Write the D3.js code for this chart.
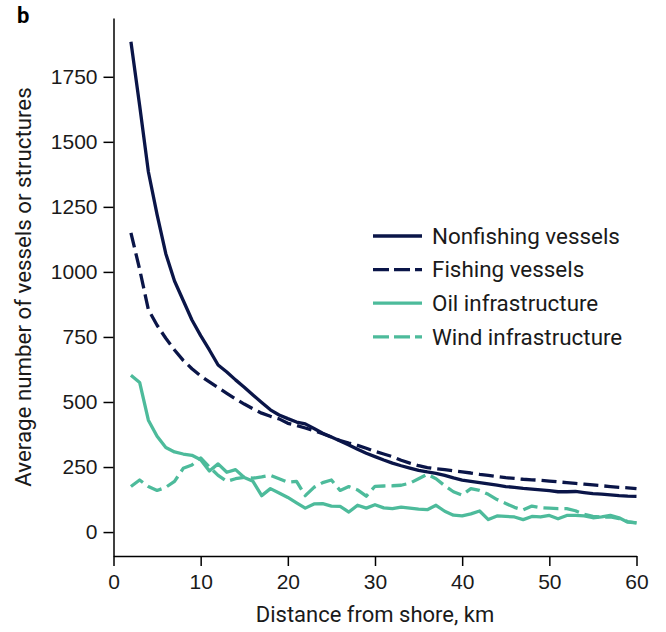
<!DOCTYPE html>
<html>
<head>
<meta charset="utf-8">
<script src="https://cdn.jsdelivr.net/npm/d3@7"></script>
<style>
  body { margin: 0; background: #fff; }
  svg { font-family: Roboto, "Noto Sans", sans-serif; }
  .axis path, .axis line { stroke: #000; stroke-width: 1.5; }
  .axis text { font-size: 21px; fill: #1a1a1a; }
  .series { fill: none; stroke-width: 3.3; stroke-linejoin: round; }
</style>
</head>
<body>
<svg id="chart"></svg>
<script>
var distance = [
  2, 3, 4, 5, 6, 7, 8, 9, 10, 11,
  12, 13, 14, 15, 16, 17, 18, 19, 20, 21,
  22, 23, 24, 25, 26, 27, 28, 29, 30, 31,
  32, 33, 34, 35, 36, 37, 38, 39, 40, 41,
  42, 43, 44, 45, 46, 47, 48, 49, 50, 51,
  52, 53, 54, 55, 56, 57, 58, 59, 60
]

var nonfishing = [
  1885, 1640, 1385, 1220, 1070, 965, 890, 815, 755, 700,
  642, 615, 585, 557, 527, 498, 470, 450, 436, 423,
  416, 398, 380, 365, 350, 335, 318, 303, 290, 277,
  265, 255, 246, 237, 231, 226, 218, 208, 200, 195,
  190, 185, 180, 175, 172, 168, 165, 162, 159, 155,
  155, 156, 152, 148, 146, 143, 140, 138, 137
]

var fishing = [
  1150, 1010, 855, 795, 745, 700, 660, 628, 600, 577,
  555, 533, 512, 492, 474, 457, 445, 435, 418, 410,
  400, 390, 378, 365, 352, 342, 333, 322, 310, 300,
  290, 276, 265, 255, 248, 243, 240, 235, 231, 227,
  222, 218, 213, 209, 206, 203, 201, 199, 196, 193,
  190, 187, 184, 181, 178, 175, 172, 170, 167
]

var oil = [
  603, 575, 430, 368, 325, 308, 300, 295, 278, 235,
  262, 230, 240, 210, 195, 140, 167, 150, 133, 112,
  92, 108, 109, 100, 99, 77, 103, 92, 105, 93,
  90, 96, 92, 88, 86, 103, 80, 65, 62, 70,
  81, 48, 62, 60, 58, 48, 60, 58, 64, 51,
  64, 64, 62, 55, 58, 64, 55, 38, 35
]

var wind = [
  175, 200, 175, 160, 172, 195, 245, 258, 285, 250,
  218, 195, 205, 210, 207, 212, 218, 205, 192, 195,
  140, 172, 190, 200, 160, 175, 162, 138, 176, 177,
  178, 180, 188, 205, 222, 205, 178, 155, 142, 167,
  160, 145, 125, 110, 95, 85, 100, 94, 92, 90,
  90, 82, 68, 60, 58, 58, 52, 40, 35
]

var seriesNames = ["Nonfishing vessels", "Fishing vessels", "Oil infrastructure", "Wind infrastructure"]
var xTicks = [0, 10, 20, 30, 40, 50, 60]
var yTicks = [0, 250, 500, 750, 1000, 1250, 1500, 1750]

var navy = "#0a1548"
var teal = "#4dbb9b"
var dash = "15,6"

var series = [
  { name: seriesNames[0], values: nonfishing, color: navy, dashed: false },
  { name: seriesNames[1], values: fishing, color: navy, dashed: true },
  { name: seriesNames[2], values: oil, color: teal, dashed: false },
  { name: seriesNames[3], values: wind, color: teal, dashed: true }
]

var width = 666
var height = 632

var svg = d3.select("#chart")
  .attr("width", width)
  .attr("height", height)

var x = d3.scaleLinear()
  .domain([0, 60])
  .range([113.5, 636.5])

var y = d3.scaleLinear()
  .domain([-92, 1976])
  .range([556, 18])

svg.append("g")
  .attr("class", "axis")
  .attr("transform", "translate(0,556)")
  .call(d3.axisBottom(x).tickValues(xTicks).tickFormat(d3.format("d")).tickSize(10).tickPadding(8).tickSizeOuter(0))

svg.append("g")
  .attr("class", "axis")
  .attr("transform", "translate(113.5,0)")
  .call(d3.axisLeft(y).tickValues(yTicks).tickFormat(d3.format("d")).tickSize(10).tickPadding(6).tickSizeOuter(0))

var line = d3.line()
  .x(function(d, i) { return x(distance[i]) })
  .y(function(d) { return y(d) })

// draw teal first so the navy lines sit on top
series.slice().reverse().forEach(function(s) {
  svg.append("path")
    .attr("class", "series")
    .attr("d", line(s.values))
    .attr("stroke", s.color)
    .attr("stroke-dasharray", s.dashed ? dash : null)
})

var legend = svg.append("g")
  .attr("transform", "translate(373,236)")

var item = legend.selectAll(".item")
  .data(series)
  .enter().append("g")
  .attr("class", "item")
  .attr("transform", function(d, i) { return "translate(0," + (i * 33.6) + ")" })

item.append("line")
  .attr("x1", 0)
  .attr("x2", 49)
  .attr("stroke", function(d) { return d.color })
  .attr("stroke-width", 3.3)
  .attr("stroke-dasharray", function(d) { return d.dashed ? "16,5" : null })

item.append("text")
  .attr("x", 59)
  .attr("dy", "0.35em")
  .style("font-size", "22.4px")
  .attr("fill", "#1a1a1a")
  .text(function(d) { return d.name })

svg.append("text")
  .attr("x", 375)
  .attr("y", 622)
  .attr("text-anchor", "middle")
  .style("font-size", "22px")
  .attr("fill", "#1a1a1a")
  .text("Distance from shore, km")

svg.append("text")
  .attr("transform", "translate(31,287) rotate(-90)")
  .attr("text-anchor", "middle")
  .style("font-size", "22.3px")
  .attr("fill", "#1a1a1a")
  .text("Average number of vessels or structures")

svg.append("text")
  .attr("x", 17)
  .attr("y", 23)
  .style("font-size", "22px")
  .style("font-weight", "bold")
  .text("b")
</script>
</body>
</html>
